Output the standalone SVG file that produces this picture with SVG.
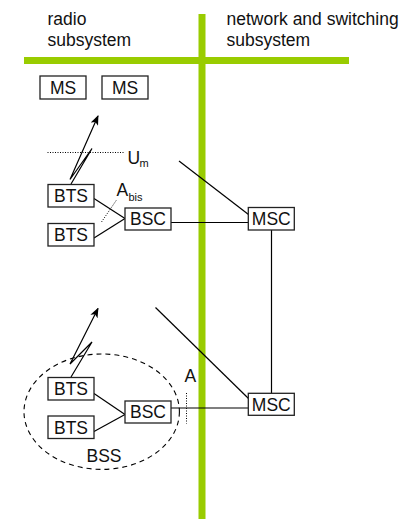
<svg xmlns="http://www.w3.org/2000/svg" width="407" height="519" viewBox="0 0 407 519">
<style>
text{font-family:"Liberation Sans",Arial,sans-serif;fill:#111;}
.lbl{font-size:17.5px;}
.sub{font-size:11px;}
.box{fill:#fff;stroke:#222;stroke-width:1.3;}
.ln{stroke:#000;stroke-width:1.2;fill:none;}
.dot{stroke:#000;stroke-width:1;stroke-dasharray:1 1.5;fill:none;}
.green{stroke:#99cc00;stroke-width:7;}
</style>
<defs>
<marker id="ah" markerWidth="10" markerHeight="8" refX="9" refY="4" orient="auto" markerUnits="userSpaceOnUse">
<path d="M0,0 L10,4 L0,8 L2.5,4 z" fill="#000"/>
</marker>
</defs>
<rect width="407" height="519" fill="#fff"/>
<g id="dividers">
<line class="green" x1="202" y1="14" x2="202" y2="519"/>
<line class="green" x1="24" y1="60.5" x2="349" y2="60.5"/>
</g>
<g id="titles">
<text class="lbl" x="47.5" y="25">radio</text>
<text class="lbl" x="47.5" y="45.5">subsystem</text>
<text class="lbl" x="226.5" y="25">network and switching</text>
<text class="lbl" x="226.5" y="45.5">subsystem</text>
</g>
<g id="connectors">
<polyline class="ln" points="71,184 92,148.5 70,179.5 98,116" marker-end="url(#ah)"/>
<polyline class="ln" points="71,377 92,342 70,364 98,308.5" marker-end="url(#ah)"/>
<line class="ln" x1="94" y1="198.5" x2="125" y2="218.5"/>
<line class="ln" x1="94" y1="238" x2="125" y2="218.5"/>
<line class="ln" x1="171" y1="222.5" x2="248" y2="222.5"/>
<line class="ln" x1="179" y1="161" x2="248.5" y2="214.5"/>
<line class="ln" x1="271.5" y1="230" x2="271.5" y2="393.5"/>
<line class="ln" x1="94" y1="393.5" x2="125" y2="414.5"/>
<line class="ln" x1="94" y1="431.5" x2="125" y2="414.5"/>
<line class="ln" x1="171" y1="408" x2="248" y2="408"/>
<line class="ln" x1="155.5" y1="307.5" x2="248.5" y2="398.5"/>
<line class="dot" x1="47.5" y1="152.5" x2="123.5" y2="152.5"/>
<line class="dot" x1="101.5" y1="222" x2="116.5" y2="200"/>
<line class="dot" x1="186.5" y1="393" x2="186.5" y2="423.5"/>
<ellipse cx="101.7" cy="411.7" rx="77.7" ry="57.7" fill="none" stroke="#000" stroke-width="1.1" stroke-dasharray="5 4"/>
</g>
<g id="interface-labels">
<text class="lbl" x="127.5" y="163.5">U</text><text class="sub" x="139.5" y="166.5">m</text>
<text class="lbl" x="116.5" y="196">A</text><text class="sub" x="128.5" y="200.5">bis</text>
<text class="lbl" x="184.5" y="381.5">A</text>
<text class="lbl" x="86.5" y="461.5">BSS</text>
</g>
<g id="ms1"><rect class="box" x="40" y="76" width="46" height="23"/><text class="lbl" x="63" y="94.3" text-anchor="middle">MS</text></g>
<g id="ms2"><rect class="box" x="102" y="76" width="46" height="23"/><text class="lbl" x="125" y="94.3" text-anchor="middle">MS</text></g>
<g id="bts1"><rect class="box" x="48" y="184.5" width="46" height="22.5"/><text class="lbl" x="71" y="202" text-anchor="middle">BTS</text></g>
<g id="bts2"><rect class="box" x="48" y="223.5" width="46" height="22.5"/><text class="lbl" x="71" y="241" text-anchor="middle">BTS</text></g>
<g id="bsc1"><rect class="box" x="125" y="208" width="46" height="22"/><text class="lbl" x="148" y="225.3" text-anchor="middle">BSC</text></g>
<g id="msc1"><rect class="box" x="248.3" y="207.5" width="46" height="22.5"/><text class="lbl" x="271.3" y="225.3" text-anchor="middle">MSC</text></g>
<g id="bts3"><rect class="box" x="48" y="377.5" width="46" height="22.5"/><text class="lbl" x="71" y="395" text-anchor="middle">BTS</text></g>
<g id="bts4"><rect class="box" x="48" y="416" width="46" height="22.5"/><text class="lbl" x="71" y="433.5" text-anchor="middle">BTS</text></g>
<g id="bsc2"><rect class="box" x="125" y="401" width="46" height="22"/><text class="lbl" x="148" y="418.3" text-anchor="middle">BSC</text></g>
<g id="msc2"><rect class="box" x="248.3" y="393.3" width="46" height="22"/><text class="lbl" x="271.3" y="410.6" text-anchor="middle">MSC</text></g>
</svg>
